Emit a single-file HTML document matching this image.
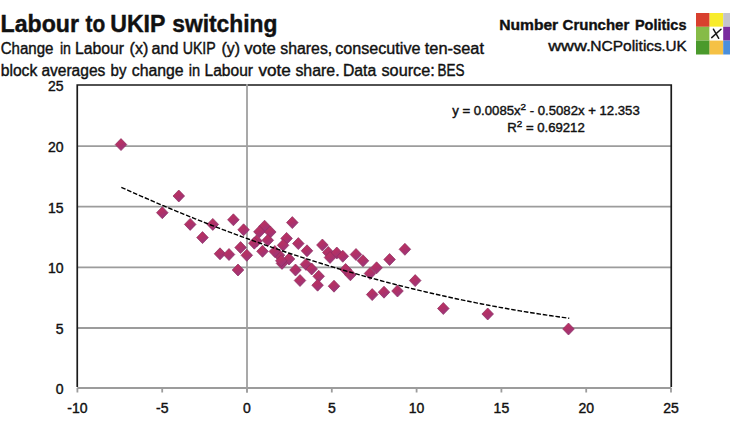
<!DOCTYPE html>
<html><head><meta charset="utf-8"><style>
html,body{margin:0;padding:0;background:#fff;width:730px;height:430px;overflow:hidden}
svg{display:block}
text{font-family:"Liberation Sans",sans-serif;fill:#111;stroke:#111;stroke-width:0.4px}
</style></head><body>
<svg width="730" height="430" viewBox="0 0 730 430">
<defs><linearGradient id="mg" x1="0.2" y1="0" x2="0.8" y2="1"><stop offset="0" stop-color="#c2305f"/><stop offset="0.5" stop-color="#ae3168"/><stop offset="1" stop-color="#963683"/></linearGradient></defs>
<rect x="0" y="0" width="730" height="430" fill="#fff"/>
<text x="0.49" y="32.2" font-size="23" font-weight="bold" textLength="78.52" lengthAdjust="spacingAndGlyphs">Labour</text>
<text x="85.59" y="32.2" font-size="23" font-weight="bold" textLength="19.72" lengthAdjust="spacingAndGlyphs">to</text>
<text x="110.21" y="32.2" font-size="23" font-weight="bold" textLength="55.28" lengthAdjust="spacingAndGlyphs">UKIP</text>
<text x="172.20" y="32.2" font-size="23" font-weight="bold" textLength="105.32" lengthAdjust="spacingAndGlyphs">switching</text>
<text x="0.65" y="54" font-size="16" textLength="52.78" lengthAdjust="spacingAndGlyphs">Change</text>
<text x="59.88" y="54" font-size="16" textLength="10.98" lengthAdjust="spacingAndGlyphs">in</text>
<text x="74.94" y="54" font-size="16" textLength="48.95" lengthAdjust="spacingAndGlyphs">Labour</text>
<text x="129.64" y="54" font-size="16" textLength="18.75" lengthAdjust="spacingAndGlyphs">(x)</text>
<text x="151.55" y="54" font-size="16" textLength="26.95" lengthAdjust="spacingAndGlyphs">and</text>
<text x="182.64" y="54" font-size="16" textLength="33.13" lengthAdjust="spacingAndGlyphs">UKIP</text>
<text x="221.45" y="54" font-size="16" textLength="18.52" lengthAdjust="spacingAndGlyphs">(y)</text>
<text x="244.22" y="54" font-size="16" textLength="31.64" lengthAdjust="spacingAndGlyphs">vote</text>
<text x="280.33" y="54" font-size="16" textLength="51.89" lengthAdjust="spacingAndGlyphs">shares,</text>
<text x="335.25" y="54" font-size="16" textLength="85.18" lengthAdjust="spacingAndGlyphs">consecutive</text>
<text x="424.75" y="54" font-size="16" textLength="59.18" lengthAdjust="spacingAndGlyphs">ten-seat</text>
<text x="0.68" y="76.4" font-size="16" textLength="36.61" lengthAdjust="spacingAndGlyphs">block</text>
<text x="41.38" y="76.4" font-size="16" textLength="63.95" lengthAdjust="spacingAndGlyphs">averages</text>
<text x="110.52" y="76.4" font-size="16" textLength="15.90" lengthAdjust="spacingAndGlyphs">by</text>
<text x="131.77" y="76.4" font-size="16" textLength="51.86" lengthAdjust="spacingAndGlyphs">change</text>
<text x="188.85" y="76.4" font-size="16" textLength="11.34" lengthAdjust="spacingAndGlyphs">in</text>
<text x="204.56" y="76.4" font-size="16" textLength="48.44" lengthAdjust="spacingAndGlyphs">Labour</text>
<text x="258.41" y="76.4" font-size="16" textLength="32.46" lengthAdjust="spacingAndGlyphs">vote</text>
<text x="295.42" y="76.4" font-size="16" textLength="44.18" lengthAdjust="spacingAndGlyphs">share.</text>
<text x="342.94" y="76.4" font-size="16" textLength="33.30" lengthAdjust="spacingAndGlyphs">Data</text>
<text x="381.51" y="76.4" font-size="16" textLength="53.22" lengthAdjust="spacingAndGlyphs">source:</text>
<text x="437.52" y="76.4" font-size="16" textLength="27.00" lengthAdjust="spacingAndGlyphs">BES</text>
<text x="499.18" y="29.7" font-size="15.5" font-weight="bold" textLength="59.02" lengthAdjust="spacingAndGlyphs">Number</text>
<text x="562.60" y="29.7" font-size="15.5" font-weight="bold" textLength="66.63" lengthAdjust="spacingAndGlyphs">Cruncher</text>
<text x="634.96" y="29.7" font-size="15.5" font-weight="bold" textLength="51.55" lengthAdjust="spacingAndGlyphs">Politics</text>
<text x="548.20" y="50.5" font-size="15.5" textLength="42.79" lengthAdjust="spacingAndGlyphs">www.</text>
<text x="590.26" y="50.5" font-size="15.5" textLength="71.62" lengthAdjust="spacingAndGlyphs">NCPolitics</text>
<text x="661.23" y="50.5" font-size="15.5" textLength="25.46" lengthAdjust="spacingAndGlyphs">.UK</text>
<rect x="696" y="13" width="13.6" height="13.8" fill="#d8402e"/>
<rect x="709.6" y="13" width="13.6" height="13.8" fill="#f8ec2c"/>
<rect x="723.2" y="13" width="13.6" height="13.8" fill="#c4c3cd"/>
<rect x="696" y="26.8" width="13.6" height="13.8" fill="#86bb47"/>
<rect x="709.6" y="26.8" width="13.6" height="13.8" fill="#ffffff"/>
<rect x="723.2" y="26.8" width="13.6" height="13.8" fill="#7a2c9f"/>
<rect x="696" y="40.6" width="13.6" height="13.9" fill="#4a9a2c"/>
<rect x="709.6" y="40.6" width="13.6" height="13.9" fill="#f5c145"/>
<rect x="723.2" y="40.6" width="13.6" height="13.9" fill="#4a8fdc"/>
<path d="M713.4 29.2 L718.7 38.3 M721 29.3 L711.7 37.6" stroke="#1a1a1a" stroke-width="1.5" stroke-linecap="round" fill="none"/>
<line x1="77.25" y1="328.0" x2="671.25" y2="328.0" stroke="#9c9c9c" stroke-width="1.8"/>
<line x1="77.25" y1="267.3" x2="671.25" y2="267.3" stroke="#9c9c9c" stroke-width="1.8"/>
<line x1="77.25" y1="206.6" x2="671.25" y2="206.6" stroke="#9c9c9c" stroke-width="1.8"/>
<line x1="77.25" y1="146.1" x2="671.25" y2="146.1" stroke="#9c9c9c" stroke-width="1.8"/>
<line x1="77.25" y1="388.0" x2="671.25" y2="388.0" stroke="#9c9c9c" stroke-width="1.8"/>
<line x1="77.40" y1="388.0" x2="77.40" y2="392.5" stroke="#9c9c9c" stroke-width="1.8"/>
<line x1="162.20" y1="388.0" x2="162.20" y2="392.5" stroke="#9c9c9c" stroke-width="1.8"/>
<line x1="247.00" y1="388.0" x2="247.00" y2="392.5" stroke="#9c9c9c" stroke-width="1.8"/>
<line x1="331.80" y1="388.0" x2="331.80" y2="392.5" stroke="#9c9c9c" stroke-width="1.8"/>
<line x1="416.60" y1="388.0" x2="416.60" y2="392.5" stroke="#9c9c9c" stroke-width="1.8"/>
<line x1="501.40" y1="388.0" x2="501.40" y2="392.5" stroke="#9c9c9c" stroke-width="1.8"/>
<line x1="586.20" y1="388.0" x2="586.20" y2="392.5" stroke="#9c9c9c" stroke-width="1.8"/>
<line x1="671.00" y1="388.0" x2="671.00" y2="392.5" stroke="#9c9c9c" stroke-width="1.8"/>
<path d="M77.25 387.1 L77.25 85.0 L671.25 85.0 L671.25 387.1" stroke="#1a1a1a" stroke-width="1.7" fill="none"/>
<line x1="247.0" y1="84.1" x2="247.0" y2="392.5" stroke="#a0a0a0" stroke-width="1.8"/>
<text x="63.5" y="394.0" font-size="14" text-anchor="end">0</text>
<text x="63.5" y="334.0" font-size="14" text-anchor="end">5</text>
<text x="63.5" y="273.3" font-size="14" text-anchor="end">10</text>
<text x="63.5" y="212.6" font-size="14" text-anchor="end">15</text>
<text x="63.5" y="152.1" font-size="14" text-anchor="end">20</text>
<text x="63.5" y="91.3" font-size="14" text-anchor="end">25</text>
<text x="77.4" y="412.6" font-size="14" text-anchor="middle">-10</text>
<text x="162.2" y="412.6" font-size="14" text-anchor="middle">-5</text>
<text x="247.0" y="412.6" font-size="14" text-anchor="middle">0</text>
<text x="331.8" y="412.6" font-size="14" text-anchor="middle">5</text>
<text x="416.6" y="412.6" font-size="14" text-anchor="middle">10</text>
<text x="501.4" y="412.6" font-size="14" text-anchor="middle">15</text>
<text x="586.2" y="412.6" font-size="14" text-anchor="middle">20</text>
<text x="671.0" y="412.6" font-size="14" text-anchor="middle">25</text>
<path d="M121.0 138.6L126.8 144.6L121.0 150.6L115.2 144.6Z" fill="url(#mg)" stroke="#8a2e60" stroke-width="0.7"/>
<path d="M178.8 190.0L184.6 196.0L178.8 202.0L173.0 196.0Z" fill="url(#mg)" stroke="#8a2e60" stroke-width="0.7"/>
<path d="M162.3 206.7L168.1 212.7L162.3 218.7L156.5 212.7Z" fill="url(#mg)" stroke="#8a2e60" stroke-width="0.7"/>
<path d="M190.2 218.4L196.0 224.4L190.2 230.4L184.4 224.4Z" fill="url(#mg)" stroke="#8a2e60" stroke-width="0.7"/>
<path d="M202.5 231.6L208.3 237.6L202.5 243.6L196.7 237.6Z" fill="url(#mg)" stroke="#8a2e60" stroke-width="0.7"/>
<path d="M212.8 218.4L218.6 224.4L212.8 230.4L207.0 224.4Z" fill="url(#mg)" stroke="#8a2e60" stroke-width="0.7"/>
<path d="M233.4 213.8L239.2 219.8L233.4 225.8L227.6 219.8Z" fill="url(#mg)" stroke="#8a2e60" stroke-width="0.7"/>
<path d="M243.6 223.8L249.4 229.8L243.6 235.8L237.8 229.8Z" fill="url(#mg)" stroke="#8a2e60" stroke-width="0.7"/>
<path d="M220.0 247.8L225.8 253.8L220.0 259.8L214.2 253.8Z" fill="url(#mg)" stroke="#8a2e60" stroke-width="0.7"/>
<path d="M229.0 248.5L234.8 254.5L229.0 260.5L223.2 254.5Z" fill="url(#mg)" stroke="#8a2e60" stroke-width="0.7"/>
<path d="M240.6 241.6L246.4 247.6L240.6 253.6L234.8 247.6Z" fill="url(#mg)" stroke="#8a2e60" stroke-width="0.7"/>
<path d="M246.8 249.3L252.6 255.3L246.8 261.3L241.0 255.3Z" fill="url(#mg)" stroke="#8a2e60" stroke-width="0.7"/>
<path d="M238.0 264.0L243.8 270.0L238.0 276.0L232.2 270.0Z" fill="url(#mg)" stroke="#8a2e60" stroke-width="0.7"/>
<path d="M264.6 220.2L270.4 226.2L264.6 232.2L258.8 226.2Z" fill="url(#mg)" stroke="#8a2e60" stroke-width="0.7"/>
<path d="M259.4 225.8L265.2 231.8L259.4 237.8L253.6 231.8Z" fill="url(#mg)" stroke="#8a2e60" stroke-width="0.7"/>
<path d="M270.3 226.0L276.1 232.0L270.3 238.0L264.5 232.0Z" fill="url(#mg)" stroke="#8a2e60" stroke-width="0.7"/>
<path d="M267.8 234.3L273.6 240.3L267.8 246.3L262.0 240.3Z" fill="url(#mg)" stroke="#8a2e60" stroke-width="0.7"/>
<path d="M256.5 235.0L262.3 241.0L256.5 247.0L250.7 241.0Z" fill="url(#mg)" stroke="#8a2e60" stroke-width="0.7"/>
<path d="M254.3 237.2L260.1 243.2L254.3 249.2L248.5 243.2Z" fill="url(#mg)" stroke="#8a2e60" stroke-width="0.7"/>
<path d="M262.5 245.3L268.3 251.3L262.5 257.3L256.7 251.3Z" fill="url(#mg)" stroke="#8a2e60" stroke-width="0.7"/>
<path d="M292.3 216.6L298.1 222.6L292.3 228.6L286.5 222.6Z" fill="url(#mg)" stroke="#8a2e60" stroke-width="0.7"/>
<path d="M286.6 232.4L292.4 238.4L286.6 244.4L280.8 238.4Z" fill="url(#mg)" stroke="#8a2e60" stroke-width="0.7"/>
<path d="M283.1 239.3L288.9 245.3L283.1 251.3L277.3 245.3Z" fill="url(#mg)" stroke="#8a2e60" stroke-width="0.7"/>
<path d="M298.3 237.6L304.1 243.6L298.3 249.6L292.5 243.6Z" fill="url(#mg)" stroke="#8a2e60" stroke-width="0.7"/>
<path d="M307.0 244.8L312.8 250.8L307.0 256.8L301.2 250.8Z" fill="url(#mg)" stroke="#8a2e60" stroke-width="0.7"/>
<path d="M279.0 249.2L284.8 255.2L279.0 261.2L273.2 255.2Z" fill="url(#mg)" stroke="#8a2e60" stroke-width="0.7"/>
<path d="M289.0 253.0L294.8 259.0L289.0 265.0L283.2 259.0Z" fill="url(#mg)" stroke="#8a2e60" stroke-width="0.7"/>
<path d="M282.0 257.4L287.8 263.4L282.0 269.4L276.2 263.4Z" fill="url(#mg)" stroke="#8a2e60" stroke-width="0.7"/>
<path d="M295.5 264.0L301.3 270.0L295.5 276.0L289.7 270.0Z" fill="url(#mg)" stroke="#8a2e60" stroke-width="0.7"/>
<path d="M300.0 274.5L305.8 280.5L300.0 286.5L294.2 280.5Z" fill="url(#mg)" stroke="#8a2e60" stroke-width="0.7"/>
<path d="M306.0 258.4L311.8 264.4L306.0 270.4L300.2 264.4Z" fill="url(#mg)" stroke="#8a2e60" stroke-width="0.7"/>
<path d="M311.7 263.0L317.5 269.0L311.7 275.0L305.9 269.0Z" fill="url(#mg)" stroke="#8a2e60" stroke-width="0.7"/>
<path d="M318.7 270.3L324.5 276.3L318.7 282.3L312.9 276.3Z" fill="url(#mg)" stroke="#8a2e60" stroke-width="0.7"/>
<path d="M317.6 279.2L323.4 285.2L317.6 291.2L311.8 285.2Z" fill="url(#mg)" stroke="#8a2e60" stroke-width="0.7"/>
<path d="M322.4 239.0L328.2 245.0L322.4 251.0L316.6 245.0Z" fill="url(#mg)" stroke="#8a2e60" stroke-width="0.7"/>
<path d="M328.3 246.5L334.1 252.5L328.3 258.5L322.5 252.5Z" fill="url(#mg)" stroke="#8a2e60" stroke-width="0.7"/>
<path d="M336.8 247.0L342.6 253.0L336.8 259.0L331.0 253.0Z" fill="url(#mg)" stroke="#8a2e60" stroke-width="0.7"/>
<path d="M342.8 250.3L348.6 256.3L342.8 262.3L337.0 256.3Z" fill="url(#mg)" stroke="#8a2e60" stroke-width="0.7"/>
<path d="M356.0 248.5L361.8 254.5L356.0 260.5L350.2 254.5Z" fill="url(#mg)" stroke="#8a2e60" stroke-width="0.7"/>
<path d="M363.0 254.8L368.8 260.8L363.0 266.8L357.2 260.8Z" fill="url(#mg)" stroke="#8a2e60" stroke-width="0.7"/>
<path d="M389.6 253.5L395.4 259.5L389.6 265.5L383.8 259.5Z" fill="url(#mg)" stroke="#8a2e60" stroke-width="0.7"/>
<path d="M404.9 243.3L410.7 249.3L404.9 255.3L399.1 249.3Z" fill="url(#mg)" stroke="#8a2e60" stroke-width="0.7"/>
<path d="M345.6 263.5L351.4 269.5L345.6 275.5L339.8 269.5Z" fill="url(#mg)" stroke="#8a2e60" stroke-width="0.7"/>
<path d="M350.4 268.8L356.2 274.8L350.4 280.8L344.6 274.8Z" fill="url(#mg)" stroke="#8a2e60" stroke-width="0.7"/>
<path d="M370.0 267.5L375.8 273.5L370.0 279.5L364.2 273.5Z" fill="url(#mg)" stroke="#8a2e60" stroke-width="0.7"/>
<path d="M376.6 261.8L382.4 267.8L376.6 273.8L370.8 267.8Z" fill="url(#mg)" stroke="#8a2e60" stroke-width="0.7"/>
<path d="M334.0 280.2L339.8 286.2L334.0 292.2L328.2 286.2Z" fill="url(#mg)" stroke="#8a2e60" stroke-width="0.7"/>
<path d="M330.0 251.5L335.8 257.5L330.0 263.5L324.2 257.5Z" fill="url(#mg)" stroke="#8a2e60" stroke-width="0.7"/>
<path d="M372.2 288.6L378.0 294.6L372.2 300.6L366.4 294.6Z" fill="url(#mg)" stroke="#8a2e60" stroke-width="0.7"/>
<path d="M384.0 286.2L389.8 292.2L384.0 298.2L378.2 292.2Z" fill="url(#mg)" stroke="#8a2e60" stroke-width="0.7"/>
<path d="M397.5 285.0L403.3 291.0L397.5 297.0L391.7 291.0Z" fill="url(#mg)" stroke="#8a2e60" stroke-width="0.7"/>
<path d="M415.2 274.6L421.0 280.6L415.2 286.6L409.4 280.6Z" fill="url(#mg)" stroke="#8a2e60" stroke-width="0.7"/>
<path d="M443.3 302.5L449.1 308.5L443.3 314.5L437.5 308.5Z" fill="url(#mg)" stroke="#8a2e60" stroke-width="0.7"/>
<path d="M487.7 308.0L493.5 314.0L487.7 320.0L481.9 314.0Z" fill="url(#mg)" stroke="#8a2e60" stroke-width="0.7"/>
<path d="M568.5 323.0L574.3 329.0L568.5 335.0L562.7 329.0Z" fill="url(#mg)" stroke="#8a2e60" stroke-width="0.7"/>
<path d="M274.8 245.5L280.6 251.5L274.8 257.5L269.0 251.5Z" fill="url(#mg)" stroke="#8a2e60" stroke-width="0.7"/>
<path d="M281.3 254.8L287.1 260.8L281.3 266.8L275.5 260.8Z" fill="url(#mg)" stroke="#8a2e60" stroke-width="0.7"/>
<path d="M121.33 187.32 L123.57 188.33 L125.81 189.34 L128.05 190.34 L130.28 191.34 L132.52 192.34 L134.76 193.33 L137.00 194.32 L139.24 195.31 L141.48 196.29 L143.72 197.27 L145.96 198.24 L148.20 199.22 L150.44 200.19 L152.68 201.15 L154.92 202.11 L157.16 203.07 L159.40 204.02 L161.64 204.97 L163.88 205.92 L166.12 206.86 L168.36 207.80 L170.60 208.74 L172.84 209.67 L175.08 210.60 L177.32 211.53 L179.56 212.45 L181.79 213.37 L184.03 214.28 L186.27 215.19 L188.51 216.10 L190.75 217.00 L192.99 217.90 L195.23 218.80 L197.47 219.69 L199.71 220.58 L201.95 221.47 L204.19 222.35 L206.43 223.23 L208.67 224.11 L210.91 224.98 L213.15 225.85 L215.39 226.71 L217.63 227.57 L219.87 228.43 L222.11 229.28 L224.35 230.13 L226.59 230.98 L228.83 231.82 L231.07 232.66 L233.30 233.50 L235.54 234.33 L237.78 235.16 L240.02 235.98 L242.26 236.80 L244.50 237.62 L246.74 238.44 L248.98 239.25 L251.22 240.05 L253.46 240.86 L255.70 241.66 L257.94 242.45 L260.18 243.25 L262.42 244.03 L264.66 244.82 L266.90 245.60 L269.14 246.38 L271.38 247.15 L273.62 247.93 L275.86 248.69 L278.10 249.46 L280.34 250.22 L282.58 250.97 L284.81 251.73 L287.05 252.48 L289.29 253.22 L291.53 253.97 L293.77 254.71 L296.01 255.44 L298.25 256.17 L300.49 256.90 L302.73 257.62 L304.97 258.35 L307.21 259.06 L309.45 259.78 L311.69 260.49 L313.93 261.19 L316.17 261.90 L318.41 262.60 L320.65 263.29 L322.89 263.98 L325.13 264.67 L327.37 265.36 L329.61 266.04 L331.85 266.72 L334.09 267.39 L336.32 268.06 L338.56 268.73 L340.80 269.39 L343.04 270.05 L345.28 270.71 L347.52 271.36 L349.76 272.01 L352.00 272.66 L354.24 273.30 L356.48 273.94 L358.72 274.57 L360.96 275.20 L363.20 275.83 L365.44 276.46 L367.68 277.08 L369.92 277.69 L372.16 278.31 L374.40 278.92 L376.64 279.52 L378.88 280.12 L381.12 280.72 L383.36 281.32 L385.60 281.91 L387.83 282.50 L390.07 283.08 L392.31 283.67 L394.55 284.24 L396.79 284.82 L399.03 285.39 L401.27 285.95 L403.51 286.52 L405.75 287.08 L407.99 287.63 L410.23 288.18 L412.47 288.73 L414.71 289.28 L416.95 289.82 L419.19 290.36 L421.43 290.89 L423.67 291.42 L425.91 291.95 L428.15 292.47 L430.39 292.99 L432.63 293.51 L434.87 294.02 L437.11 294.53 L439.35 295.04 L441.58 295.54 L443.82 296.04 L446.06 296.53 L448.30 297.03 L450.54 297.51 L452.78 298.00 L455.02 298.48 L457.26 298.96 L459.50 299.43 L461.74 299.90 L463.98 300.37 L466.22 300.83 L468.46 301.29 L470.70 301.74 L472.94 302.19 L475.18 302.64 L477.42 303.09 L479.66 303.53 L481.90 303.97 L484.14 304.40 L486.38 304.83 L488.62 305.26 L490.86 305.68 L493.09 306.10 L495.33 306.52 L497.57 306.93 L499.81 307.34 L502.05 307.74 L504.29 308.15 L506.53 308.54 L508.77 308.94 L511.01 309.33 L513.25 309.72 L515.49 310.10 L517.73 310.48 L519.97 310.86 L522.21 311.23 L524.45 311.60 L526.69 311.97 L528.93 312.33 L531.17 312.69 L533.41 313.04 L535.65 313.39 L537.89 313.74 L540.13 314.09 L542.37 314.43 L544.60 314.76 L546.84 315.10 L549.08 315.43 L551.32 315.75 L553.56 316.08 L555.80 316.39 L558.04 316.71 L560.28 317.02 L562.52 317.33 L564.76 317.64 L567.00 317.94 L569.24 318.24" stroke="#000" stroke-width="1.4" fill="none" stroke-dasharray="4.6 1.8"/>
<g transform="translate(546 0) scale(1.097 1) translate(-546 0)"><text x="546" y="115.2" font-size="12" text-anchor="middle">y = 0.0085x<tspan font-size="9" dy="-5">2</tspan><tspan dy="5"> - 0.5082x + 12.353</tspan></text>
<text x="546" y="132.4" font-size="12" text-anchor="middle">R<tspan font-size="9" dy="-5">2</tspan><tspan dy="5"> = 0.69212</tspan></text></g>
</svg>
</body></html>
